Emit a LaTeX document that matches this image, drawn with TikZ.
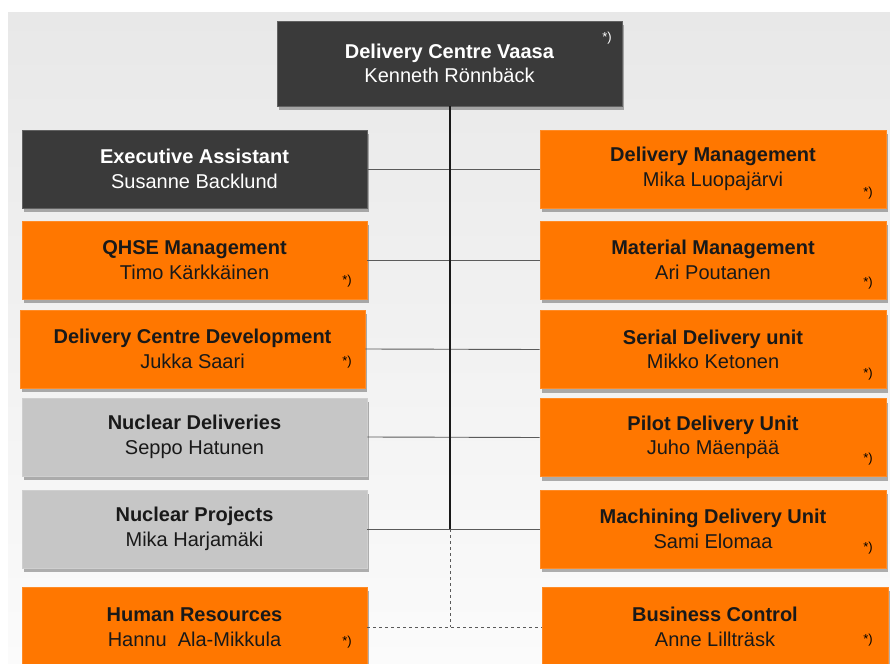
\documentclass[tikz,border=0pt]{standalone}
\usepackage{fontspec}
\setmainfont{Liberation Sans}
\usetikzlibrary{shadows}
\definecolor{unitorange}{HTML}{FF7700}
\definecolor{unitdark}{HTML}{3A3A3A}
\definecolor{unitgray}{HTML}{C6C6C6}
\definecolor{bgtop}{HTML}{E8E8E8}
\definecolor{bgbottom}{HTML}{FBFBFB}
\definecolor{linkgray}{HTML}{5A5A5A}
\begin{document}
\begin{tikzpicture}[x=1pt,y=-1pt,
  unit/.style={minimum width=345pt, minimum height=78pt, inner sep=0pt,
    align=center, font=\fontsize{20}{24.5}\selectfont,
    drop shadow={shadow xshift=2pt, shadow yshift=-4pt, opacity=0.3, fill=black}},
  darkunit/.style={unit, fill=unitdark, draw=unitdark!80!white, line width=0.6pt, text=white},
  orangeunit/.style={unit, fill=unitorange, draw=unitorange!85!white, line width=0.6pt, text=black!90},
  grayunit/.style={unit, fill=unitgray, draw=unitgray!85!white, line width=0.6pt, text=black!90},
  note/.style={inner sep=0pt, font=\fontsize{13}{13}\selectfont},
  trunk/.style={draw=black!90, line width=1.3pt},
  branch/.style={draw=linkgray, line width=0.9pt},
  dottedlink/.style={draw=linkgray, line width=0.9pt, dash pattern=on 3pt off 3pt}]

\useasboundingbox (0,0) rectangle (890,663);
% page background
\shade[top color=bgtop, bottom color=bgbottom] (8,13) rectangle (890,663);

% head of the centre
\node[darkunit, minimum height=85pt] (top) at (449.5,63.5)
  {\textbf{Delivery Centre Vaasa}\\Kenneth Rönnbäck};
\node[note, text=white] (top-n) at (607,38) {*)};

% left column
\node[darkunit] (ea) at (194.5,169) {\textbf{Executive Assistant}\\Susanne Backlund};
\node[orangeunit] (qhse) at (194.5,260) {\textbf{QHSE Management}\\Timo Kärkkäinen};
\node[orangeunit] (dcd) at (192.5,349) {\textbf{Delivery Centre Development}\\Jukka Saari};
\node[grayunit] (nd) at (194.5,437) {\textbf{Nuclear Deliveries}\\Seppo Hatunen};
\node[grayunit] (np) at (194.5,529) {\textbf{Nuclear Projects}\\Mika Harjamäki};
\node[orangeunit, minimum height=80pt] (hr) at (194.5,627) {\textbf{Human Resources}\\Hannu\ \ Ala-Mikkula};

% right column
\node[orangeunit, minimum width=346pt] (dm) at (713,169) {\textbf{Delivery Management}\\Mika Luopajärvi};
\node[orangeunit, minimum width=346pt] (mm) at (713,260) {\textbf{Material Management}\\Ari Poutanen};
\node[orangeunit, minimum width=346pt] (sd) at (713,349.5) {\textbf{Serial Delivery unit}\\Mikko Ketonen};
\node[orangeunit, minimum width=346pt] (pd) at (713,437.5) {\textbf{Pilot Delivery Unit}\\Juho Mäenpää};
\node[orangeunit, minimum width=346pt] (md) at (713,529) {\textbf{Machining Delivery Unit}\\Sami Elomaa};
\node[orangeunit, minimum width=346pt, minimum height=80pt] (bc) at (715,627) {\textbf{Business Control}\\Anne Lillträsk};

% footnote markers
\node[note] (qhse-n) at (347,281) {*)};
\node[note] (dcd-n) at (347,362) {*)};
\node[note] (hr-n) at (347,642) {*)};
\node[note] (dm-n) at (868,193) {*)};
\node[note] (mm-n) at (868,283) {*)};
\node[note] (sd-n) at (868,374) {*)};
\node[note] (pd-n) at (868,459) {*)};
\node[note] (md-n) at (868,548) {*)};
\node[note] (bc-n) at (868,640) {*)};

% connectors
\coordinate (j5) at (450,529);
\coordinate (j6) at (450,627);
\draw[branch] (ea.east) -- (dm.west);
\draw[branch] (qhse.east) -- (mm.west);
\draw[branch] (dcd.east) -- (sd.west);
\draw[branch] (nd.east) -- (pd.west);
\draw[branch] (np.east) -- (md.west);
\draw[dottedlink] (j5) -- (j6);
\draw[dottedlink] (hr.east) -- (bc.west);
\draw[trunk] (top.south -| j5) -- (j5);
\end{tikzpicture}
\end{document}
